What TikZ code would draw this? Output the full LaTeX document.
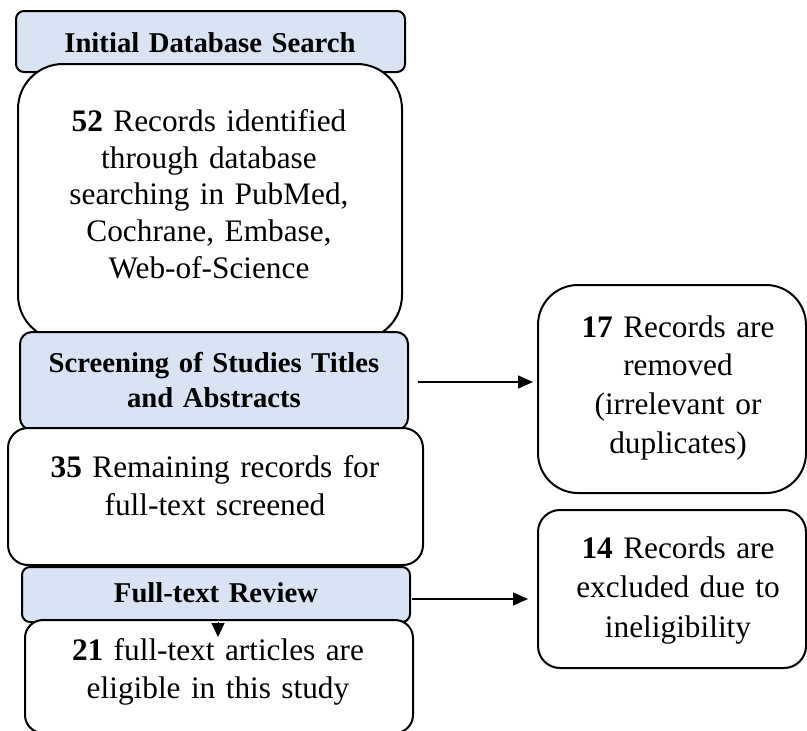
\documentclass[tikz,border=0pt]{standalone}
\usepackage{fontspec}
\setmainfont{Liberation Serif}
\usetikzlibrary{arrows.meta}
\definecolor{hdrfill}{HTML}{DAE3F3}
\tikzset{
  boxbase/.style={draw=black, line width=2pt, inner sep=0pt, outer sep=0pt},
  hdrbox/.style={boxbase, fill=hdrfill},
  bodybox/.style={boxbase, fill=white},
  txt/.style={anchor=base, align=center, inner sep=0pt, text width=#1},
  txt/.default=390pt,
  hfont/.style={font=\fontsize{28.7}{35}\selectfont\bfseries},
  bfont/.style={font=\fontsize{31.3}{#1}\selectfont},
  arr/.style={line width=1.3pt, -{Triangle[length=15pt,width=13pt]}},
}
\begin{document}
\begin{tikzpicture}[x=1pt,y=-1pt]
\useasboundingbox (0,0) rectangle (807,731);
\clip (0,0) rectangle (807,731);
% header 1
\node[hdrbox, rounded corners=8pt, minimum width=389pt, minimum height=61pt] (h1) at (210.5,41.5) {};
\node[txt, hfont] (h1t) at (210,52.7) {Initial Database Search};
% body 1
\node[bodybox, rounded corners=45pt, minimum width=384pt, minimum height=276pt] (b1) at (210,202) {};
\node[txt, bfont=36.6pt] (b1t) at (209,131.7) {\textbf{52} Records identified\\through database\\searching in PubMed,\\Cochrane, Embase,\\Web-of-Science};
% header 2
\node[hdrbox, rounded corners=12pt, minimum width=388pt, minimum height=98pt] (h2) at (214,381) {};
\node[txt, hfont] (h2t) at (214,372) {Screening of Studies Titles\\and Abstracts};
% body 2
\node[bodybox, rounded corners=20pt, minimum width=415pt, minimum height=137pt] (b2) at (215.5,496.5) {};
\node[txt, bfont=38pt] (b2t) at (215,477) {\textbf{35} Remaining records for\\full-text screened};
% header 3
\node[hdrbox, rounded corners=8pt, minimum width=388pt, minimum height=55pt] (h3) at (216,594.5) {};
\node[txt, hfont] (h3t) at (216,602) {Full-text Review};
% body 3
\node[bodybox, rounded corners=18pt, minimum width=388pt, minimum height=113pt] (b3) at (219,676.5) {};
\node[txt, bfont=38pt] (b3t) at (218,660) {\textbf{21} full-text articles are\\eligible in this study};
% right boxes
\node[bodybox, rounded corners=40pt, minimum width=268pt, minimum height=208pt] (r1) at (672,389) {};
\node[txt=260pt, bfont=38.7pt] (r1t) at (678,337) {\textbf{17} Records are\\removed\\(irrelevant or\\duplicates)};
\node[bodybox, rounded corners=22pt, minimum width=268pt, minimum height=158pt] (r2) at (672,589) {};
\node[txt=260pt, bfont=39.5pt] (r2t) at (678,558) {\textbf{14} Records are\\excluded due to\\ineligibility};
% connectors
\draw[arr, shorten <=10pt, shorten >=5pt] ([yshift=-1pt]h2.east) -- ([yshift=-1pt]h2.east -| r1.west);
\draw[arr, shorten <=2pt, shorten >=10pt] ([yshift=-4.5pt]h3.east) -- ([yshift=-4.5pt]h3.east -| r2.west);
\coordinate (h3tip) at (218,637);
\draw[line width=1pt, -{Triangle[length=14pt,width=13pt]}] (h3.south -| h3tip) -- (h3tip);
\end{tikzpicture}
\end{document}
